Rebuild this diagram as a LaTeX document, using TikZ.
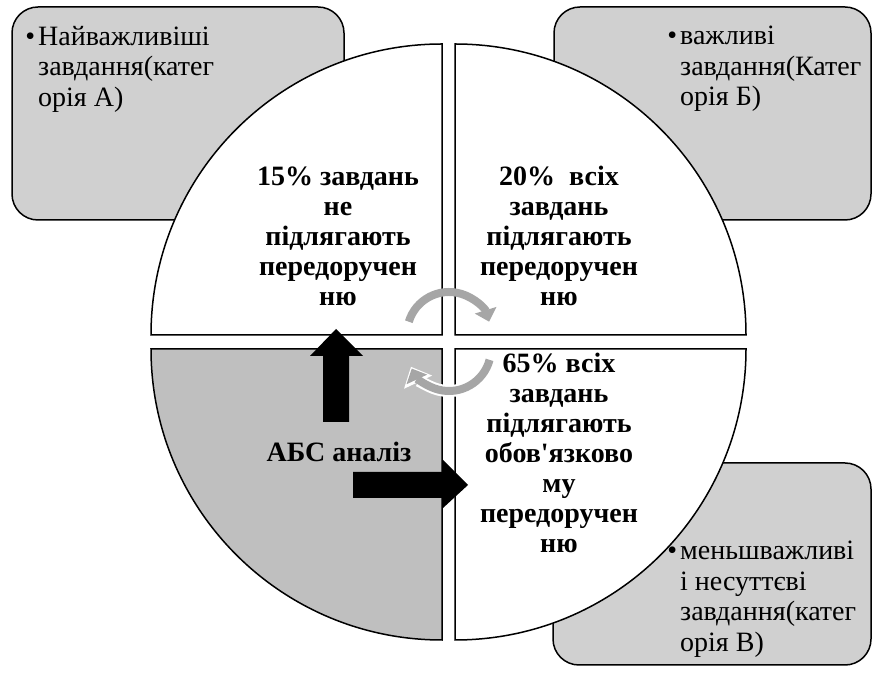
\documentclass[tikz,border=0pt]{standalone}
\usepackage{fontspec}
\setmainfont{Liberation Serif}
\newfontfamily\straightfont{Liberation Serif}
\usetikzlibrary{arrows.meta}
\definecolor{boxgray}{rgb}{0.816,0.816,0.816}
\definecolor{quadgray}{rgb}{0.75,0.75,0.75}
\definecolor{cyclegray}{rgb}{0.65,0.65,0.65}
\begin{document}
\begin{tikzpicture}[x=1pt,y=1pt,
  catbox/.style={draw=black, line width=1.5pt, fill=boxgray, rounded corners=26pt},
  quad/.style={draw=black, line width=1.5pt, fill=white},
  cattext/.style={font=\fontsize{28}{30.5}\selectfont, align=left, inner sep=0pt, anchor=north west},
  quadtext/.style={font=\fontsize{28}{30}\selectfont\bfseries, align=center, inner sep=0pt},
  blockarrow/.style={fill=black, draw=none},
  cyclearrow/.style={draw=cyclegray, line width=8pt, -{Triangle[width=22pt,length=12pt]}}
]
\useasboundingbox (0,0) rectangle (873,677);

% category boxes behind the circle
\draw[catbox] (12,457) rectangle (344,670);
\draw[catbox] (554,457) rectangle (871,670);
\draw[catbox] (553,12) rectangle (871,214);

% the four quadrants of the circle
\coordinate (tl) at (442,342);
\coordinate (tr) at (455,342);
\coordinate (br) at (455,328);
\coordinate (bl) at (442,328);
\draw[quad] (tl) -- ++(-291,0) arc[start angle=180,end angle=90,radius=291] -- cycle;
\draw[quad] (tr) -- ++(0,291) arc[start angle=90,end angle=0,radius=291] -- cycle;
\draw[quad] (br) -- ++(291,0) arc[start angle=0,end angle=-90,radius=291] -- cycle;
\draw[quad, fill=quadgray] (bl) -- ++(0,-291) arc[start angle=-90,end angle=-180,radius=291] -- cycle;

% block arrows out of the ABC analysis
\fill[blockarrow] (323,255) -- (323,321) -- (310,321) -- (336,348) -- (363,321) -- (349,321) -- (349,255) -- cycle;
\fill[blockarrow] (353,205) -- (443,205) -- (443,217) -- (468,192) -- (443,169) -- (443,179) -- (353,179) -- cycle;

% cycle arrows at the centre
\draw[cyclearrow] (449,343) ++(163:42) arc[start angle=163,end angle=17,radius=42];
\draw[draw=white, line width=12pt, -{Triangle[width=30pt,length=17pt]}] (449,328) ++(-15:42) arc[start angle=-15,end angle=-155,radius=42];
\draw[cyclearrow, shorten >=2pt] (449,328) ++(-15:42) arc[start angle=-15,end angle=-155,radius=42];

% category texts
\node[cattext] (catA) at (38,651) {\llap{•\hspace{3pt}}Найважливіші\\завдання(катег\\орія А)};
\node[cattext] (catB) at (680,651) {\llap{•\hspace{3pt}}важливі\\завдання(Катег\\орія Б)};
\node[cattext] (catC) at (680,136) {\llap{•\hspace{3pt}}меньшважливі\\і несуттєві\\завдання(катег\\орія В)};

% quadrant texts
\node[quadtext] (qa) at (338,441) {15\% завдань\\не\\підлягають\\передоручен\\ню};
\node[quadtext] (qb) at (559,441) {20\%\ \ всіх\\завдань\\підлягають\\передоручен\\ню};
\node[quadtext] (qc) at (559,224) {65\% всіх\\завдань\\підлягають\\обов{\straightfont\bfseries'}язково\\му\\передоручен\\ню};
\node[quadtext] (abc) at (339,225) {АБС аналіз};
\end{tikzpicture}
\end{document}
